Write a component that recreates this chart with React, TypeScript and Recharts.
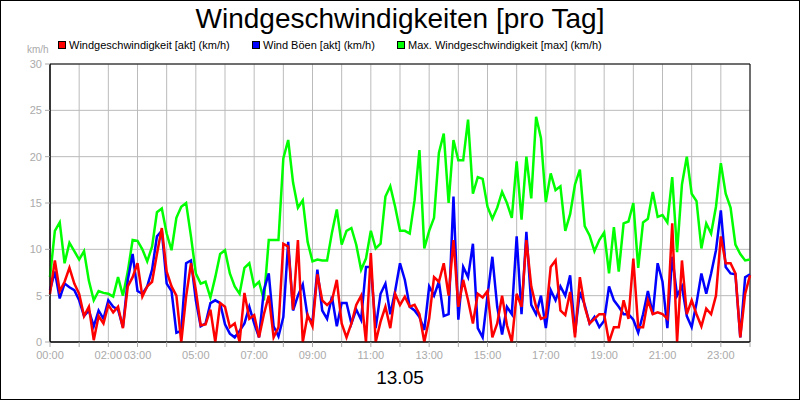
import React from "react";
import { LineChart, Line, XAxis, YAxis, CartesianGrid, ReferenceArea } from "recharts";

// 10-minute samples, 00:00 .. 24:00 (145 values each)
const speed = [
  5.2, 8.8, 5.5, 6.5, 8.0, 6.3, 5.2, 2.8, 3.8, 0.2, 2.8, 2.0,
  4.0, 3.2, 3.8, 1.5, 6.0, 7.0, 8.5, 4.9, 6.0, 6.5, 9.5, 12.3,
  7.6, 6.0, 5.0, 0.0, 4.9, 8.5, 5.6, 1.8, 1.9, 3.5, 0.0, 4.2,
  3.8, 1.6, 2.0, 0.0, 5.3, 2.5, 2.9, 0.5, 3.0, 5.0, 0.5, 1.6,
  10.6, 10.3, 3.5, 11.0, 0.0, 2.9, 1.7, 7.3, 4.5, 4.0, 4.5, 6.7,
  2.0, 0.5, 2.0, 4.0, 5.0, 0.0, 9.6, 0.0, 2.2, 3.8, 1.5, 5.2,
  4.0, 4.9, 3.8, 4.0, 3.0, 0.0, 2.5, 7.0, 6.5, 8.5, 5.0, 11.0,
  3.8, 6.7, 4.5, 2.0, 5.2, 4.8, 5.5, 0.5, 2.0, 5.0, 1.8, 0.0,
  5.2, 3.8, 11.0, 6.0, 3.8, 2.5, 2.7, 8.1, 8.8, 3.4, 2.9, 5.4,
  0.5, 7.0, 3.8, 2.0, 2.5, 3.0, 3.0, 0.0, 1.6, 1.6, 4.5, 2.5,
  9.0, 1.6, 1.6, 4.5, 3.0, 3.2, 3.0, 2.5, 12.8, 0.0, 8.8, 3.0,
  4.5, 3.0, 1.7, 3.6, 3.0, 5.0, 11.4, 8.5, 8.5, 7.4, 0.5, 5.2,
  7.2,
];

const gusts = [
  5.6, 7.6, 4.7, 6.3, 5.9, 5.6, 4.5, 2.8, 3.4, 1.7, 3.4, 2.5,
  4.5, 3.8, 3.5, 1.6, 6.7, 9.5, 5.5, 5.2, 6.0, 7.8, 11.4, 12.0,
  6.3, 5.5, 1.0, 1.2, 8.5, 8.8, 4.5, 1.7, 2.0, 4.2, 4.5, 4.2,
  1.9, 0.9, 0.5, 1.2, 2.0, 3.8, 2.0, 0.5, 5.6, 7.4, 1.7, 0.6,
  2.7, 10.8, 3.4, 5.0, 6.2, 2.7, 2.2, 7.8, 3.4, 2.5, 4.9, 1.7,
  4.2, 4.2, 2.0, 3.5, 2.4, 8.1, 8.1, 1.5, 5.2, 6.3, 3.0, 5.5,
  8.5, 6.7, 3.8, 3.4, 2.7, 1.3, 6.0, 5.0, 6.5, 2.8, 3.0, 15.7,
  2.4, 8.1, 7.0, 10.6, 1.5, 0.5, 5.0, 9.2, 3.8, 0.8, 3.8, 3.0,
  11.4, 3.0, 11.9, 4.0, 3.0, 5.0, 1.5, 5.6, 4.5, 6.0, 5.0, 7.2,
  1.0, 5.4, 4.0, 2.0, 2.7, 1.6, 2.3, 6.0, 4.5, 3.8, 3.0, 3.0,
  2.4, 1.0, 3.0, 5.5, 3.0, 8.5, 6.5, 1.5, 9.2, 5.0, 6.0, 2.8,
  1.6, 4.2, 7.4, 5.2, 7.4, 9.9, 14.2, 8.1, 7.4, 7.3, 0.5, 7.0,
  7.3,
];

const maxSpeed = [
  7.0, 12.0, 12.9, 8.5, 10.7, 9.8, 8.9, 9.8, 6.6, 4.5, 5.5, 5.3,
  5.2, 4.9, 7.0, 5.0, 7.6, 11.0, 10.9, 10.0, 8.7, 10.3, 14.0, 14.4,
  11.7, 9.9, 13.4, 14.6, 15.0, 11.4, 7.4, 6.3, 6.5, 4.8, 7.0, 9.5,
  9.9, 7.4, 6.0, 5.2, 8.0, 8.5, 6.0, 6.5, 4.5, 11.0, 11.0, 11.0,
  19.8, 21.8, 17.2, 14.5, 15.3, 10.8, 8.7, 8.9, 8.8, 8.8, 11.8, 14.3,
  10.5, 12.0, 12.3, 10.5, 7.8, 9.0, 12.0, 10.1, 10.6, 15.7, 16.8, 14.6,
  12.0, 12.0, 11.7, 15.3, 20.7, 10.1, 12.0, 13.4, 20.4, 22.5, 15.0, 21.8,
  19.6, 19.6, 24.0, 16.0, 17.8, 17.6, 14.6, 13.3, 14.5, 16.2, 15.0, 13.4,
  19.5, 13.2, 20.0, 15.5, 24.3, 22.0, 15.1, 18.2, 16.4, 16.8, 12.0, 13.8,
  17.0, 18.6, 12.5, 11.5, 9.8, 11.0, 11.8, 7.4, 12.4, 7.6, 12.8, 13.0,
  15.0, 8.0, 12.9, 13.3, 16.2, 13.5, 13.7, 12.9, 17.8, 9.7, 17.0, 20.0,
  16.0, 15.2, 10.1, 12.8, 11.7, 14.6, 19.3, 16.0, 14.5, 10.5, 9.5, 8.8,
  8.9,
];

const hourTicks = [0, 1, 2, 3, 4, 5, 6, 7, 8, 9, 10, 11, 12, 13, 14, 15, 16, 17, 18, 19, 20, 21, 22, 23, 24];
const labeledHours = [0, 2, 3, 5, 7, 9, 11, 13, 15, 17, 19, 21, 23];
const yTicks = [0, 5, 10, 15, 20, 25, 30];

const data = speed.map((v, i) => ({
  t: i / 6,
  speed: v,
  gusts: gusts[i],
  maxSpeed: maxSpeed[i],
}));

const fmtHour = (h: number) =>
  labeledHours.includes(h) ? `${String(h).padStart(2, "0")}:00` : "";

const font = "'Liberation Sans', Arial, sans-serif";

function LegendItem({ color, label, left }: any) {
  return (
    <div style={{ position: "absolute", left, top: 38, display: "flex", alignItems: "center", fontSize: 11, lineHeight: "12px" }}>
      <span style={{ width: 6, height: 6, background: color, border: "1px solid #000", marginRight: 3 }} />
      <span>{label}</span>
    </div>
  );
}

export default function App() {
  return (
    <div
      style={{
        position: "absolute",
        left: 0,
        top: 0,
        width: 800,
        height: 400,
        background: "#fff",
        border: "1px solid #000",
        boxSizing: "border-box",
        fontFamily: font,
        overflow: "hidden",
      }}
    >
      <div style={{ position: "absolute", left: 0, top: 3, width: 798, textAlign: "center", fontSize: 28, lineHeight: "30px", color: "#000" }}>
        Windgeschwindigkeiten [pro Tag]
      </div>
      <div style={{ position: "absolute", left: 26, top: 43, fontSize: 10, color: "#aaa" }}>km/h</div>
      <LegendItem color="#ff0000" label="Windgeschwindigkeit [akt] (km/h)" left={57} />
      <LegendItem color="#0000ff" label="Wind Böen [akt] (km/h)" left={251} />
      <LegendItem color="#00ff00" label="Max. Windgeschwindigkeit [max] (km/h)" left={396} />
      <div style={{ position: "absolute", left: 0, top: 367, width: 798, textAlign: "center", fontSize: 19, lineHeight: "20px", color: "#000" }}>
        13.05
      </div>
      <div style={{ position: "absolute", left: -1, top: -1 }}>
        <LineChart width={800} height={400} data={data} margin={{ top: 64, right: 50, bottom: 28, left: 0 }}>
          <CartesianGrid stroke="#bbbbbb" verticalValues={hourTicks} />
          <XAxis
            type="number"
            dataKey="t"
            domain={[0, 24]}
            ticks={hourTicks}
            interval={0}
            height={30}
            tickFormatter={fmtHour}
            axisLine={{ stroke: "#000" }}
            tickLine={{ stroke: "#aaa" }}
            tickSize={5}
            tickMargin={4}
            tick={{ fill: "#aaa", fontSize: 11, fontFamily: font }}
          />
          <YAxis
            domain={[0, 30]}
            ticks={yTicks}
            width={50}
            axisLine={{ stroke: "#000" }}
            tickLine={{ stroke: "#aaa" }}
            tickSize={5}
            tickMargin={3}
            tick={{ fill: "#aaa", fontSize: 11, fontFamily: font }}
          />
          <ReferenceArea x1={0} x2={24} y1={0} y2={30} fill="none" stroke="#000" strokeWidth={1} />
          <Line type="linear" dataKey="maxSpeed" stroke="#00ff00" strokeWidth={2.5} dot={false} isAnimationActive={false} />
          <Line type="linear" dataKey="gusts" stroke="#0000ff" strokeWidth={2.5} dot={false} isAnimationActive={false} />
          <Line type="linear" dataKey="speed" stroke="#ff0000" strokeWidth={2.5} dot={false} isAnimationActive={false} />
        </LineChart>
      </div>
    </div>
  );
}
